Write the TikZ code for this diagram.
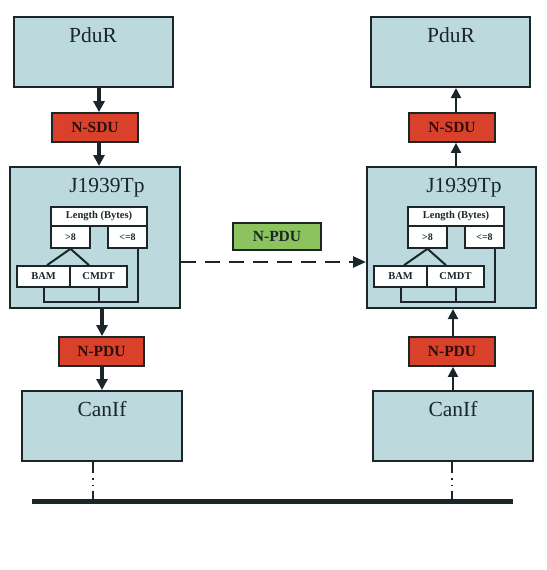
\documentclass[tikz,border=0pt]{standalone}
\usepackage{fontspec}
\setmainfont{Liberation Serif}
\usetikzlibrary{arrows.meta,calc}
\definecolor{boxblue}{HTML}{BCDADD}
\definecolor{boxred}{HTML}{D9412B}
\definecolor{boxgreen}{HTML}{8CC35F}
\definecolor{ink}{HTML}{1A2628}
\definecolor{redink}{HTML}{2E0E08}
\tikzset{
  layer/.style={draw=ink, line width=2pt, fill=boxblue, inner sep=0pt},
  title/.style={font=\fontsize{21.5}{24}\selectfont, text=ink, inner sep=0pt},
  pdu/.style={draw=ink, line width=1.8pt, fill=boxred, inner sep=0pt,
     font=\bfseries\fontsize{15.5}{17}\selectfont, text=redink},
  pdugreen/.style={pdu, fill=boxgreen, text=ink},
  cell/.style={draw=ink, line width=1.6pt, fill=white, inner sep=0pt,
     font=\bfseries\fontsize{10.5}{12}\selectfont, text=ink},
  small/.style={cell, font=\bfseries\fontsize{10}{12}\selectfont},
  tree/.style={draw=ink, line width=2pt},
  downarrow/.style={draw=ink, line width=3.5pt, -{Triangle[length=11pt,width=11pt]}},
  uparrow/.style={draw=ink, line width=2pt, -{Triangle[length=10pt,width=10pt]}},
  busline/.style={draw=ink, line width=1.6pt,
     dash pattern=on 11pt off 5pt on 1.5pt off 5pt on 1.5pt off 5pt on 12pt}
}
\begin{document}
\begin{tikzpicture}[x=1pt,y=-1pt]
\useasboundingbox (0,0) rectangle (546,570);

% ---------- left column ----------
\node[layer, minimum width=159pt, minimum height=70pt] (pdurL) at (93.5,52) {};
\node[title] (pdurLt) at (93,35) {PduR};
\node[pdu, minimum width=86pt, minimum height=29pt] (nsduL) at (95,127.5) {N-SDU};
\node[layer, minimum width=170pt, minimum height=141pt] (jL) at (95,237.5) {};
\node[title] (jLt) at (107,188) {J1939Tp};
\node[cell, minimum width=96pt, minimum height=19pt] (lenL) at (99,216.5) {Length (Bytes)};
\node[small, minimum width=39pt, minimum height=22pt] (gtL) at (70.5,237) {>8};
\node[small, minimum width=39pt, minimum height=22pt] (leL) at (127.5,237) {<=8};
\node[cell, minimum width=53pt, minimum height=21pt] (bamL) at (43.5,276.5) {BAM};
\node[cell, minimum width=57pt, minimum height=21pt] (cmdtL) at (98.5,276.5) {CMDT};
\coordinate (brL) at (138,302);
\draw[tree] (gtL.south) -- ([xshift=-23.5pt]bamL.north -| gtL.south);
\draw[tree] (gtL.south) -- ([xshift=18.5pt]cmdtL.north -| gtL.south);
\draw[tree] (bamL.south) |- (brL) -- (brL |- leL.south);
\draw[tree] (cmdtL.south) -- (cmdtL.south |- brL);
\node[pdu, minimum width=85pt, minimum height=29pt] (npduL) at (101.5,351.5) {N-PDU};
\node[layer, minimum width=160pt, minimum height=70pt] (canL) at (102,426) {};
\node[title] (canLt) at (102,409) {CanIf};

\draw[downarrow] (pdurL.south -| 99,0) -- (nsduL.north -| 99,0);
\draw[downarrow] (nsduL.south -| 99,0) -- (jL.north -| 99,0);
\draw[downarrow] (jL.south -| 102,0) -- (npduL.north -| 102,0);
\draw[downarrow] (npduL.south -| 102,0) -- (canL.north -| 102,0);

% ---------- right column ----------
\node[layer, minimum width=159pt, minimum height=70pt] (pdurR) at (450.5,52) {};
\node[title] (pdurRt) at (451,35) {PduR};
\node[pdu, minimum width=86pt, minimum height=29pt] (nsduR) at (452,127.5) {N-SDU};
\node[layer, minimum width=169pt, minimum height=141pt] (jR) at (451.5,237.5) {};
\node[title] (jRt) at (464,188) {J1939Tp};
\node[cell, minimum width=96pt, minimum height=19pt] (lenR) at (456,216.5) {Length (Bytes)};
\node[small, minimum width=39pt, minimum height=22pt] (gtR) at (427.5,237) {>8};
\node[small, minimum width=39pt, minimum height=22pt] (leR) at (484.5,237) {<=8};
\node[cell, minimum width=53pt, minimum height=21pt] (bamR) at (400.5,276.5) {BAM};
\node[cell, minimum width=57pt, minimum height=21pt] (cmdtR) at (455.5,276.5) {CMDT};
\coordinate (brR) at (495,302);
\draw[tree] (gtR.south) -- ([xshift=-23.5pt]bamR.north -| gtR.south);
\draw[tree] (gtR.south) -- ([xshift=18.5pt]cmdtR.north -| gtR.south);
\draw[tree] (bamR.south) |- (brR) -- (brR |- leR.south);
\draw[tree] (cmdtR.south) -- (cmdtR.south |- brR);
\node[pdu, minimum width=86pt, minimum height=29pt] (npduR) at (452,351.5) {N-PDU};
\node[layer, minimum width=160pt, minimum height=70pt] (canR) at (453,426) {};
\node[title] (canRt) at (453,409) {CanIf};

\draw[uparrow] (nsduR.north -| 456,0) -- (pdurR.south -| 456,0);
\draw[uparrow] (jR.north -| 456,0) -- (nsduR.south -| 456,0);
\draw[uparrow] (npduR.north -| 453,0) -- (jR.south -| 453,0);
\draw[uparrow] (canR.north -| 453,0) -- (npduR.south -| 453,0);

% ---------- middle ----------
\node[pdugreen, minimum width=88pt, minimum height=27pt] (npduM) at (277,236.5) {N-PDU};
\coordinate (dashL) at (180,262);
\coordinate (dashR) at (367,262);
\draw[draw=ink, line width=2.5pt, dash pattern=on 15pt off 9pt,
      -{Triangle[length=13pt,width=11pt]}] (jL.east |- dashL) -- (jR.west |- dashR);

% ---------- bus ----------
\node[fill=ink, inner sep=0pt, minimum width=481pt, minimum height=5pt] (bus) at (272.5,501.5) {};
\draw[busline] (canL.south -| 93,0) -- (bus.north -| 93,0);
\draw[busline] (canR.south -| 452,0) -- (bus.north -| 452,0);
\end{tikzpicture}
\end{document}
